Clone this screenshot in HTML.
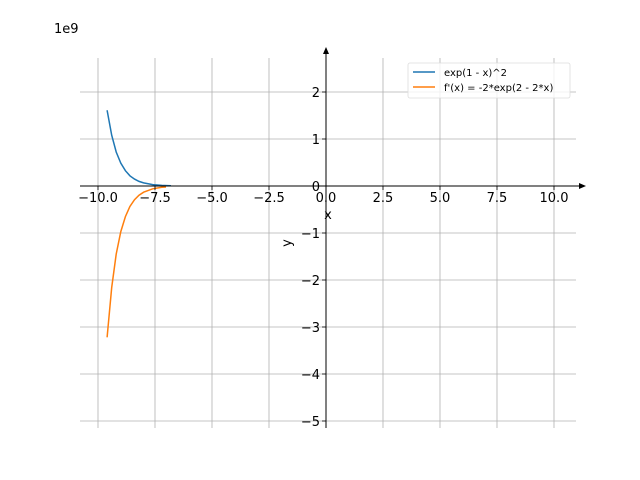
<!DOCTYPE html>
<html><head><meta charset="utf-8"><style>body{margin:0;background:#fff}svg{display:block}text{font-family:"DejaVu Sans","Liberation Sans",sans-serif;fill:#000}</style></head><body>
<svg width="640" height="480" viewBox="0 0 640 480" xmlns="http://www.w3.org/2000/svg">
<g stroke="#b0b0b0" stroke-width="0.8">
<line x1="98" y1="58" x2="98" y2="428"/><line x1="155" y1="58" x2="155" y2="428"/><line x1="212" y1="58" x2="212" y2="428"/><line x1="269" y1="58" x2="269" y2="428"/><line x1="326" y1="58" x2="326" y2="428"/><line x1="383" y1="58" x2="383" y2="428"/><line x1="440" y1="58" x2="440" y2="428"/><line x1="497" y1="58" x2="497" y2="428"/><line x1="554" y1="58" x2="554" y2="428"/>
<line x1="80" y1="92" x2="576" y2="92"/><line x1="80" y1="139" x2="576" y2="139"/><line x1="80" y1="186" x2="576" y2="186"/><line x1="80" y1="233" x2="576" y2="233"/><line x1="80" y1="280" x2="576" y2="280"/><line x1="80" y1="327" x2="576" y2="327"/><line x1="80" y1="374" x2="576" y2="374"/><line x1="80" y1="421" x2="576" y2="421"/>
</g>
<polyline fill="none" stroke="#1f77b4" stroke-width="1.5" points="107.1,110.3 111.7,135.2 116.2,152 120.8,163.2 125.4,170.7 129.9,175.8 134.5,179.1 139,181.4 143.6,182.9 152.7,184.6 161.8,185.4 171,185.7"/>
<polyline fill="none" stroke="#ff7f0e" stroke-width="1.5" points="107.1,337.3 111.7,287.5 116.2,254.1 120.8,231.6 125.4,216.6 129.9,206.5 134.5,199.7 139,195.2 143.6,192.2 152.7,188.8 161.8,187.3 166,187"/>
<g stroke="#000" stroke-width="1">
<line x1="80" y1="186" x2="580" y2="186"/><line x1="326" y1="428" x2="326" y2="52"/>
<g stroke-width="0.8">
<line x1="98" y1="186" x2="98" y2="190"/><line x1="155" y1="186" x2="155" y2="190"/><line x1="212" y1="186" x2="212" y2="190"/><line x1="269" y1="186" x2="269" y2="190"/><line x1="326" y1="186" x2="326" y2="190"/><line x1="383" y1="186" x2="383" y2="190"/><line x1="440" y1="186" x2="440" y2="190"/><line x1="497" y1="186" x2="497" y2="190"/><line x1="554" y1="186" x2="554" y2="190"/>
<line x1="322" y1="92" x2="326" y2="92"/><line x1="322" y1="139" x2="326" y2="139"/><line x1="322" y1="186" x2="326" y2="186"/><line x1="322" y1="233" x2="326" y2="233"/><line x1="322" y1="280" x2="326" y2="280"/><line x1="322" y1="327" x2="326" y2="327"/><line x1="322" y1="374" x2="326" y2="374"/><line x1="322" y1="421" x2="326" y2="421"/>
</g></g>
<polygon points="326,47 323,54 329,54" fill="#000"/>
<polygon points="586,186 579,183 579,189" fill="#000"/>
<g font-size="13" text-anchor="middle">
<text x="98" y="202">−10.0</text><text x="155" y="202">−7.5</text><text x="212" y="202">−5.0</text><text x="269" y="202">−2.5</text><text x="326" y="202">0.0</text><text x="383" y="202">2.5</text><text x="440" y="202">5.0</text><text x="497" y="202">7.5</text><text x="554" y="202">10.0</text>
</g>
<g font-size="13" text-anchor="end">
<text x="320" y="97">2</text><text x="320" y="144">1</text><text x="320" y="191">0</text><text x="320" y="238">−1</text><text x="320" y="285">−2</text><text x="320" y="332">−3</text><text x="320" y="379">−4</text><text x="320" y="426">−5</text>
</g>
<text x="54" y="33" font-size="13">1e9</text>
<text x="328" y="219" font-size="13" text-anchor="middle">x</text>
<text transform="translate(291,243) rotate(-90)" font-size="13" text-anchor="middle">y</text>
<rect x="408" y="63" width="162" height="35" rx="2" fill="#fff" fill-opacity="0.8" stroke="#ddd" stroke-width="0.8"/>
<line x1="413" y1="72" x2="435" y2="72" stroke="#1f77b4" stroke-width="1.5"/>
<line x1="413" y1="87" x2="435" y2="87" stroke="#ff7f0e" stroke-width="1.5"/>
<text x="444" y="76" font-size="10">exp(1 - x)^2</text>
<text x="444" y="91" font-size="10">f'(x) = -2*exp(2 - 2*x)</text>
</svg>
</body></html>
